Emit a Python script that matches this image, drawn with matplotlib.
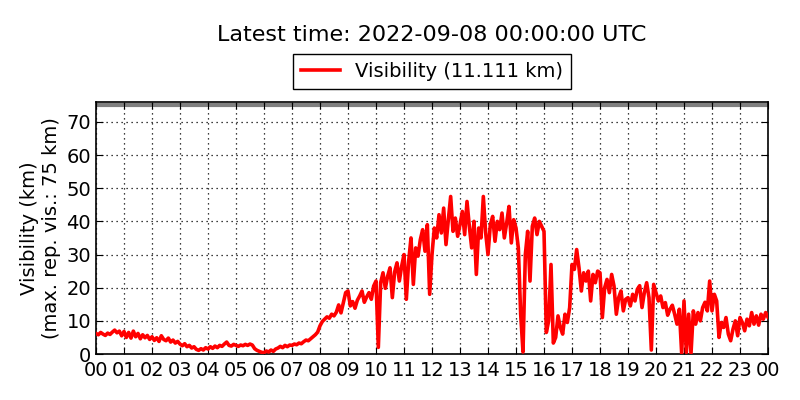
import numpy as np
import matplotlib
matplotlib.use('Agg')
import matplotlib.pyplot as plt

# visibility (km), 5 minute steps, one row per hour
vis_h00 = [6.2, 5.8, 6.5, 6.0, 5.6, 6.3, 5.9, 6.6, 7.2, 6.4, 6.9, 5.5]
vis_h01 = [6.8, 5.0, 6.5, 4.8, 6.9, 5.2, 6.2, 4.6, 5.8, 4.9, 5.6, 4.4]
vis_h02 = [5.2, 4.1, 4.9, 3.8, 5.5, 4.4, 4.0, 4.8, 3.6, 4.2, 3.3, 3.8]
vis_h03 = [3.0, 2.5, 3.1, 2.2, 2.6, 1.8, 2.2, 1.4, 1.1, 1.6, 1.2, 1.9]
vis_h04 = [1.5, 2.2, 1.7, 2.4, 1.9, 2.6, 2.3, 3.0, 3.6, 2.6, 2.4, 2.9]
vis_h05 = [2.6, 2.3, 2.7, 2.5, 2.9, 2.6, 3.0, 2.7, 1.6, 1.1, 0.8, 0.5]
vis_h06 = [0.4, 0.9, 0.6, 1.2, 0.8, 1.5, 1.8, 2.3, 1.9, 2.6, 2.2, 2.7]
vis_h07 = [2.6, 3.0, 2.8, 3.3, 3.1, 3.7, 4.2, 4.0, 4.6, 5.2, 5.8, 6.6]
vis_h08 = [8.5, 9.8, 10.5, 11.2, 10.8, 12.0, 11.5, 12.6, 14.8, 12.4, 15.5, 18.5]
vis_h09 = [19.0, 14.5, 15.8, 13.8, 16.2, 17.5, 19.0, 15.6, 17.2, 18.5, 16.5, 20.5]
vis_h10 = [22.0, 2.0, 21.5, 24.5, 19.8, 23.5, 26.0, 17.0, 24.8, 27.5, 22.0, 26.5]
vis_h11 = [30.0, 16.5, 28.0, 35.0, 21.0, 32.0, 29.5, 34.5, 37.5, 31.0, 39.0, 18.0]
vis_h12 = [30.0, 38.0, 35.0, 42.0, 36.5, 44.0, 33.0, 40.5, 47.5, 37.0, 41.0, 35.5]
vis_h13 = [39.0, 43.0, 36.0, 46.0, 38.5, 32.0, 40.0, 24.0, 38.0, 35.0, 47.5, 36.5]
vis_h14 = [30.0, 39.0, 41.5, 34.0, 40.0, 37.5, 42.5, 35.0, 39.5, 44.5, 33.5, 40.5]
vis_h15 = [38.0, 32.0, 12.0, 0.6, 30.0, 37.0, 22.0, 38.5, 41.0, 36.0, 40.0, 38.5]
vis_h16 = [37.0, 6.5, 10.0, 27.0, 3.3, 5.0, 11.5, 8.0, 6.0, 12.0, 9.5, 14.0]
vis_h17 = [27.0, 25.5, 31.5, 26.0, 19.0, 24.5, 22.0, 25.0, 16.0, 24.0, 21.5, 25.0]
vis_h18 = [24.5, 11.0, 20.0, 22.5, 18.5, 24.0, 20.5, 12.0, 17.0, 19.0, 13.0, 16.5]
vis_h19 = [17.0, 14.5, 18.0, 16.0, 19.5, 20.6, 14.0, 18.5, 21.5, 17.0, 1.2, 21.0]
vis_h20 = [18.5, 16.0, 17.5, 14.0, 15.5, 11.7, 13.5, 14.7, 12.0, 9.0, 13.5, 0.2]
vis_h21 = [16.0, 0.5, 12.0, 0.2, 13.0, 9.0, 12.5, 10.0, 14.0, 15.6, 13.0, 22.0]
vis_h22 = [13.0, 18.0, 16.0, 5.0, 9.5, 8.0, 11.0, 6.0, 4.0, 7.5, 10.0, 5.5]
vis_h23 = [11.0, 9.5, 7.0, 10.5, 8.5, 12.5, 9.0, 11.5, 8.7, 12.0, 10.5, 12.5]
vis_last = [11.111]

hour_labels = ['%02d' % h for h in range(24)] + ['00']
max_vis = 75
title = 'Latest time: 2022-09-08 00:00:00 UTC'

vis = np.array(vis_h00 + vis_h01 + vis_h02 + vis_h03 + vis_h04 + vis_h05 +
               vis_h06 + vis_h07 + vis_h08 + vis_h09 + vis_h10 + vis_h11 +
               vis_h12 + vis_h13 + vis_h14 + vis_h15 + vis_h16 + vis_h17 +
               vis_h18 + vis_h19 + vis_h20 + vis_h21 + vis_h22 + vis_h23 +
               vis_last)
hours = np.arange(len(vis)) / 12.0

fig = plt.figure(figsize=(8, 4), dpi=100)
ax = fig.add_axes([0.12, 0.115, 0.84, 0.63])

ax.axhline(max_vis, color='gray', lw=3, zorder=1)
ax.plot(hours, vis, color='red', lw=2.6, label='Visibility (%.3f km)' % vis[-1], zorder=3)

ax.set_xlim(0, 24)
ax.set_ylim(0, 76)
ax.set_xticks(range(25))
ax.set_xticklabels(hour_labels)
ax.set_yticks(range(0, 71, 10))
ax.tick_params(direction='in', top=True, right=True, labelsize=14, length=5)
ax.tick_params(axis='x', pad=5)
ax.grid(True, color='black', linestyle=(0, (1, 3)), linewidth=0.9)
for s in ax.spines.values():
    s.set_linewidth(1.2)
ax.set_ylabel('Visibility (km)\n(max. rep. vis.: 75 km)', fontsize=14)

leg = ax.legend(loc='lower center', bbox_to_anchor=(0.5, 1.052), borderaxespad=0,
                fontsize=14, fancybox=False, framealpha=1, edgecolor='black')
leg.get_frame().set_linewidth(1)

fig.text(0.54, 0.912, title, ha='center', va='center', fontsize=16)

fig.savefig('out.png', dpi=100)
